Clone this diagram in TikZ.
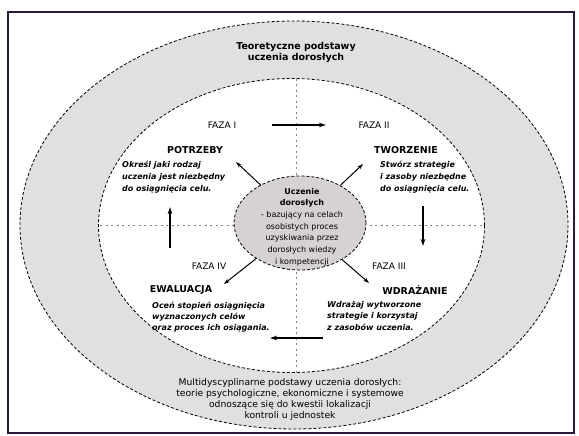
\documentclass[tikz,border=0pt]{standalone}
\usepackage{fontspec}
\setmainfont{DejaVu Sans}
\usetikzlibrary{
    positioning,
    shapes.geometric,
    arrows.meta
    }

\definecolor{ringgrey}{RGB}{226,223,226}
\definecolor{coregrey}{RGB}{214,209,212}
\definecolor{framecol}{RGB}{40,24,60}

\begin{document}
\begin{tikzpicture}[x=1pt, y=-1pt]
\tikzset{ring/.style =
        {
            densely dashed,
            line width=0.8pt,
            fill=ringgrey
        }
}

\tikzset{inner/.style =
        {
            ring,
            fill=white
        }
}

\tikzset{core/.style =
        {
            shape=ellipse,
            densely dashed,
            line width=0.8pt,
            fill=coregrey,
            minimum width=132pt,
            minimum height=94pt,
            inner sep=0pt,
            draw
        }
}

\tikzset{axis/.style =
        {
            gray,
            line width=0.6pt,
            dash pattern=on 2pt off 3.5pt
        }
}

\tikzset{phase/.style = { font=\fontsize{9}{11}\selectfont, inner sep=1pt } }

\tikzset{stage/.style = { font=\bfseries\fontsize{9.5}{11}\selectfont, inner sep=1pt } }

\tikzset{note/.style =
        {
            font=\bfseries\itshape\fontsize{8}{12}\selectfont,
            align=left,
            anchor=west,
            inner sep=0pt
        }
}

\tikzset{cycle/.style =
        {
            line width=1.3pt,
            -{Stealth[length=7pt, width=4.5pt]}
        }
}

\tikzset{spoke/.style =
        {
            line width=1pt,
            -{Stealth[length=6pt, width=4pt]}
        }
}

\useasboundingbox (0,0) rectangle (579,436);

% frame and the two rings
\draw[framecol, line width=1.6pt] (8,12) rectangle (574,433);
\draw[ring] (294,225) ellipse [x radius=274, y radius=204];
\draw[inner] (291.5,225.5) ellipse [x radius=193, y radius=147];

\coordinate (ax-top) at (296,79);
\coordinate (ax-bottom) at (296,372);
\coordinate (ax-left) at (100,225);
\coordinate (ax-right) at (484,225);
\draw[axis] (ax-top) -- (ax-bottom);
\draw[axis] (ax-left) -- (ax-right);

\node[core] (core) at (300,223) {};
\node[font=\fontsize{8}{11.7}\selectfont, align=center, inner sep=0pt] (core-text) at (302,227)
    {\textbf{Uczenie}\\\textbf{dorosłych}\\- bazujący na celach\\osobistych proces\\uzyskiwania przez\\dorosłych wiedzy\\i kompetencji};

\node[font=\bfseries\fontsize{9.5}{11}\selectfont, align=center] (title) at (296,52)
    {Teoretyczne podstawy\\uczenia dorosłych};

\node[font=\fontsize{9.2}{11}\selectfont, align=center] (base) at (290,399)
    {Multidyscyplinarne podstawy uczenia dorosłych:\\teorie psychologiczne, ekonomiczne i systemowe\\odnoszące się do kwestii lokalizacji\\kontroli u jednostek};

\node[phase] (faza1) at (222,125) {FAZA I};
\node[phase] (faza2) at (374,125) {FAZA II};
\node[phase] (faza3) at (389,266) {FAZA III};
\node[phase] (faza4) at (209,266) {FAZA IV};

\node[stage] (potrzeby) at (195,150) {POTRZEBY};
\node[stage] (tworzenie) at (406,150) {TWORZENIE};
\node[stage] (ewaluacja) at (181,290) {EWALUACJA};
\node[stage] (wdrazanie) at (415,290) {WDRAŻANIE};

\node[note] (potrzeby-note) at (122,177)
    {Określ jaki rodzaj\\uczenia jest niezbędny\\do osiągnięcia celu.};
\node[note] (tworzenie-note) at (380,177)
    {Stwórz strategie\\i zasoby niezbędne\\do osiągnięcia celu.};
\node[note, font=\bfseries\itshape\fontsize{8}{11}\selectfont] (ewaluacja-note) at (152,317)
    {Oceń stopień osiągnięcia\\wyznaczonych celów\\oraz proces ich osiągania.};
\node[note, font=\bfseries\itshape\fontsize{8}{11.5}\selectfont] (wdrazanie-note) at (327,316)
    {Wdrażaj wytworzone\\strategie i korzystaj\\z zasobów uczenia.};

% arrows of the cycle
\coordinate (c1-a) at (272,125);
\coordinate (c1-b) at (326,125);
\coordinate (c2-a) at (423,206);
\coordinate (c2-b) at (423,246);
\coordinate (c3-a) at (323,338);
\coordinate (c3-b) at (270,338);
\coordinate (c4-a) at (170,248);
\coordinate (c4-b) at (170,207);
\foreach \start / \finish in
    {c1-a/c1-b,
        c2-a/c2-b,
        c3-a/c3-b,
        c4-a/c4-b}
    \draw [cycle] (\start) -- (\finish);

% spokes out of the core
\coordinate (sp-nw) at (236,162);
\coordinate (sp-ne) at (363,164);
\coordinate (sp-se) at (369,283);
\coordinate (sp-sw) at (224,284);
\foreach \ang / \finish in
    {136/sp-nw,
        43/sp-ne,
        -41/sp-se,
        -141/sp-sw}
    \draw [spoke] (core.\ang) -- (\finish);

\end{tikzpicture}
\end{document}
